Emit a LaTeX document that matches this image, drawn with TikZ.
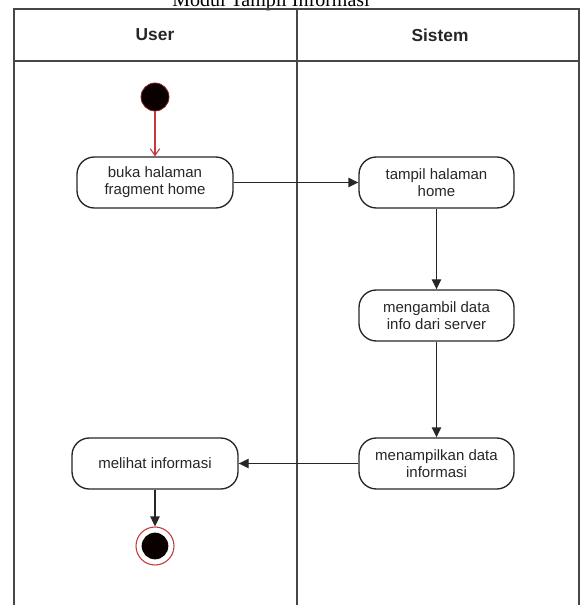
\documentclass[tikz,border=0pt]{standalone}
\usepackage{fontspec}
\setmainfont{Liberation Sans}
\newfontfamily\titlefont{Liberation Serif}
\usetikzlibrary{arrows.meta}
\definecolor{lanegray}{HTML}{474747}
\definecolor{ink}{HTML}{262626}
\definecolor{flowred}{HTML}{C23A3A}
\definecolor{startfill}{HTML}{0A0000}
\begin{document}
\begin{tikzpicture}[x=0.75pt,y=-0.75pt,
  lane/.style={draw=lanegray, line width=1.1pt},
  lanehead/.style={font=\bfseries\fontsize{13}{15}\selectfont, text=ink},
  act/.style={draw=ink, line width=1pt, rounded corners=13pt,
    minimum height=38.25pt, inner sep=0pt, align=center,
    font=\fontsize{11.25}{12.75}\selectfont, text=ink},
  flow/.style={draw=ink, line width=1pt, -{Triangle[length=7.5pt,width=7pt]}},
  initflow/.style={draw=flowred, line width=0.8pt, -{Straight Barb[length=5pt,width=7pt]}},
]
\useasboundingbox (0,0) rectangle (582,605);

% caption, partly above the page edge
\node[anchor=base, font=\titlefont\fontsize{15}{18}\selectfont] (title) at (271,7) {Modul Tampil Informasi};

% swimlane frame
\draw[lane] (14,606) -- (14,9) -- (579,9) -- (579,606);
\draw[lane] (14,61) -- (579,61);
\draw[lane] (297,9) -- (297,606);
\node[lanehead] (huser) at (155,35) {User};
\node[lanehead] (hsys) at (440,35) {Sistem};

% initial and final states
\node[circle, fill=startfill, draw=flowred!70!black, line width=0.6pt, minimum size=21pt, inner sep=0pt] (start) at (155,97) {};
\node[circle, draw=flowred, line width=0.8pt, fill=white, minimum size=28.5pt, inner sep=0pt] (stop) at (155,546) {};
\node[circle, fill=startfill, minimum size=20pt, inner sep=0pt] (stopdot) at (155,546) {};

% activities
\node[act, minimum width=117pt] (buka) at (155,182.5) {buka halaman\\fragment home};
\node[act, minimum width=116.25pt] (tampil) at (436.5,182.5) {tampil halaman\\home};
\node[act, minimum width=116.25pt] (ambil) at (436.5,315.5) {mengambil data\\info dari server};
\node[act, minimum width=116.25pt] (tampilkan) at (436.5,463.5) {menampilkan data\\informasi};
\node[act, minimum width=124.5pt] (lihat) at (155,463.5) {melihat informasi};

% control flow
\draw[initflow] (start) -- (buka);
\draw[flow] (buka) -- (tampil);
\draw[flow] (tampil) -- (ambil);
\draw[flow] (ambil) -- (tampilkan);
\draw[flow] (tampilkan) -- (lihat);
\draw[flow] (lihat) -- (stop);
\end{tikzpicture}
\end{document}
